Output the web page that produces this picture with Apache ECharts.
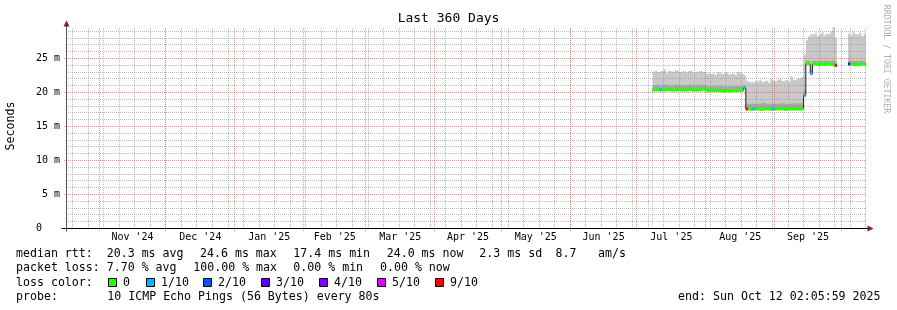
<!DOCTYPE html>
<html><head><meta charset="utf-8">
<script src="https://cdn.jsdelivr.net/npm/echarts@6/dist/echarts.min.js"></script>
<style>html,body{margin:0;padding:0;background:#fff}#c{width:897px;height:310px}</style>
</head><body><div id="c"></div>
<script>
const FONT = '"DejaVu Sans Mono", monospace';
const startTime = Date.parse('2024-10-17T02:05:59+02:00');
const endTime = Date.parse('2025-10-12T02:05:59+02:00');
const firstDay = Date.parse('2025-07-08T00:00:00+02:00');
const DAY = 86400000;

// daily values, index 0 = 2025-07-08 ... index 96 = 2025-10-12 (milliseconds -> shown as "m")
const median = [
  20.3,20.3,20.4,20.3,20.3,20.3,20.4,20.3,20.3,20.3,20.3,20.4,20.3,20.3,20.3,20.3,20.4,20.3,20.3,20.3,20.3,20.3,20.5,20.3,
  20.2,20.2,20.3,20.2,20.2,20.2,20.2,20.1,20.2,20.2,20.1,20.2,20.2,20.2,20.2,20.3,20.2,20.6,
  17.5,17.5,17.4,17.5,17.5,17.5,17.4,17.5,17.5,17.5,17.5,17.4,17.5,17.5,17.5,17.5,17.5,17.4,17.5,17.5,17.5,17.5,17.5,17.5,17.5,17.6,
  19.5,
  24.2,24.1,22.7,24.1,24.1,24.0,24.1,24.1,24.0,24.1,24.1,24.0,24.1,23.9,
  null,null,null,null,null,
  24.1,24.1,24.0,24.1,24.0,24.1,24.1,24.0,24.1
];
const smokeMid = [
  21.0,21.1,21.0,20.9,21.0,21.1,21.0,21.0,20.9,21.0,21.1,21.0,21.0,20.9,21.0,21.0,21.1,21.0,20.9,21.0,21.0,21.1,21.0,21.0,
  20.9,20.8,20.9,20.9,20.8,20.9,20.9,20.8,20.9,20.8,20.9,20.9,20.8,20.9,20.9,20.8,20.9,21.0,
  18.3,18.2,18.3,18.3,18.2,18.3,18.3,18.4,18.3,18.2,18.3,18.3,18.3,18.2,18.3,18.4,18.3,18.3,18.2,18.3,18.3,18.4,18.3,18.3,18.3,18.5,
  20.2,
  24.6,24.6,23.3,24.6,24.5,24.6,24.6,24.5,24.6,24.6,24.5,24.6,24.7,24.4,
  null,null,null,null,null,
  24.6,24.5,24.6,24.6,24.5,24.6,24.6,24.5,24.6
];
const smokeMax = [
  23.0,23.2,22.9,23.1,23.0,23.3,22.8,23.1,23.0,22.9,23.2,23.0,22.9,23.1,23.0,22.8,23.1,23.2,22.9,23.0,22.8,23.1,22.9,23.0,
  22.7,22.9,22.6,22.8,22.5,22.9,22.7,22.6,22.8,22.9,22.6,22.7,22.8,22.5,22.9,22.7,22.6,22.4,
  21.6,21.4,21.5,21.3,21.6,21.4,21.8,21.5,21.6,21.7,21.4,21.9,21.6,21.5,21.8,22.0,21.6,21.7,21.9,21.5,22.3,21.8,21.7,22.0,21.9,22.2,
  25.5,
  27.6,28.2,28.5,28.4,28.7,28.2,28.5,28.8,28.3,28.6,28.4,28.9,29.6,28.0,
  null,null,null,null,null,
  28.6,28.3,28.8,28.5,28.4,28.7,28.2,28.6,28.5
];
const lossCount = [
  0,0,0,1,0,0,0,0,0,0,0,0,0,0,0,0,0,0,0,0,0,0,0,0,
  0,0,0,0,0,0,0,0,0,0,0,0,0,0,0,0,0,1,
  9,0,0,1,0,0,0,0,0,0,0,0,1,0,0,0,0,0,0,0,0,0,0,0,0,0,
  1,
  0,0,1,0,0,0,0,0,0,0,0,0,0,9,
  null,null,null,null,null,
  3,0,0,0,0,0,0,0,0
];

// month boundaries in the server's local time (CET / CEST)
const monthStarts = ['2024-11-01T00:00:00+01:00','2024-12-01T00:00:00+01:00','2025-01-01T00:00:00+01:00',
  '2025-02-01T00:00:00+01:00','2025-03-01T00:00:00+01:00','2025-04-01T00:00:00+02:00',
  '2025-05-01T00:00:00+02:00','2025-06-01T00:00:00+02:00','2025-07-01T00:00:00+02:00',
  '2025-08-01T00:00:00+02:00','2025-09-01T00:00:00+02:00','2025-10-01T00:00:00+02:00'];
const monthLabels = ["Nov '24","Dec '24","Jan '25","Feb '25","Mar '25","Apr '25",
  "May '25","Jun '25","Jul '25","Aug '25","Sep '25"];
const firstWeekLine = '2024-10-20T00:00:00+02:00';
const yTicks = [0, 5, 10, 15, 20, 25];
const yLabels = ['0   ', '5 m', '10 m', '15 m', '20 m', '25 m'];
const lossLevels = [0, 1, 2, 3, 4, 5, 9];
const lossLabels = ['0', '1/10', '2/10', '3/10', '4/10', '5/10', '9/10'];
const lossColors = ['#26ff00', '#00b8ff', '#0059ff', '#5e00ff', '#7e00ff', '#dd00ff', '#ff0000'];

// legend rows: [text pieces], placed at the reference's column positions
const legendRows = [
  ['median rtt:  20.3 ms avg', '24.6 ms max', '17.4 ms min', '24.0 ms now', '2.3 ms sd', '8.7', 'am/s'],
  ['packet loss: 7.70 % avg', '100.00 % max', '0.00 % min', '0.00 % now'],
  ['loss color:'],
  ['probe:', '10 ICMP Echo Pings (56 Bytes) every 80s']
];
const legendCols = [
  [16, 200, 293.3, 386.7, 479.3, 555.5, 598],
  [16, 193.3, 293.3, 380],
  [16],
  [16, 107.3]
];
const endText = 'end: Sun Oct 12 02:05:59 2025';

// ---- layout ----
const GRID = { left: 66, top: 27, width: 800, height: 201 };
const PX_PER_UNIT = 6.8;
const yMax = GRID.height / PX_PER_UNIT;

// ---- derived tables ----
const times = median.map((_, i) => firstDay + i * DAY);
const monthTimes = monthStarts.map(s => Date.parse(s));
const monthMids = monthLabels.map((_, i) => (monthTimes[i] + monthTimes[i + 1]) / 2);

const vGrid = [];
for (let t = Date.parse(firstWeekLine); t < endTime; t += 7 * DAY) vGrid.push([t, 0]);
monthTimes.forEach(t => vGrid.push([t, 1]));
const hGrid = [];
for (let v = 1; v < yMax; v++) hGrid.push([startTime, v, v % 5 === 0 ? 1 : 0]);

const MAJOR_COLOR = 'rgba(222,79,79,0.6)';
const MINOR_COLOR = 'rgba(143,143,143,0.6)';
const gridStyle = (kind, offset) => ({
  stroke: kind === 1 ? MAJOR_COLOR : MINOR_COLOR, fill: null, lineWidth: 1, lineDash: [1, 1], lineDashOffset: offset
});

const pts = arr => times.map((t, i) => [t, arr[i] == null ? '-' : arr[i]]);

function levelOf(l) { let k = 0; lossLevels.forEach((lv, j) => { if (l >= lv) k = j; }); return k; }
const lossSeries = lossColors.map((color, k) => {
  const data = [];
  for (let i = 0; i < times.length - 1; i++) {
    if (median[i] != null && levelOf(lossCount[i]) === k) {
      data.push([times[i], median[i]], [Math.min(times[i + 1], endTime), median[i]]);
    } else if (data.length && data[data.length - 1][1] !== '-') {
      data.push([times[i], '-']);
    }
  }
  return { type: 'line', data, symbol: 'none', z: 7, silent: true, connectNulls: false, lineStyle: { color, width: 3 } };
});

const areaSeries = (arr, color) => ({
  type: 'line', step: 'end', symbol: 'none', silent: true, z: 2, connectNulls: false,
  data: pts(arr), lineStyle: { width: 0, opacity: 0 }, areaStyle: { color, opacity: 1 }
});

const chart = echarts.init(document.getElementById('c'), null, { renderer: 'canvas' });

chart.setOption({
  animation: false,
  backgroundColor: '#ffffff',
  textStyle: { fontFamily: FONT },
  grid: Object.assign({ containLabel: false, outerBoundsMode: 'none' }, GRID),
  xAxis: {
    type: 'value', min: startTime, max: endTime,
    axisLine: { show: true, lineStyle: { color: '#000', width: 1 } },
    axisTick: { show: false }, splitLine: { show: false },
    axisLabel: {
      customValues: monthMids, margin: 4, fontFamily: FONT, fontSize: 10, color: '#000',
      formatter: v => { const i = monthMids.indexOf(v); return i >= 0 ? monthLabels[i] : ''; }
    }
  },
  yAxis: {
    type: 'value', min: 0, max: yMax,
    axisLine: { show: true, lineStyle: { color: '#555', width: 1 } },
    axisTick: { show: false }, splitLine: { show: false },
    axisLabel: {
      customValues: yTicks, margin: 6, fontFamily: FONT, fontSize: 10, color: '#000',
      formatter: v => { const i = yTicks.indexOf(v); return i >= 0 ? yLabels[i] : ''; }
    }
  },
  series: [
    areaSeries(smokeMax, '#c9c9c9'),
    areaSeries(smokeMid, '#a6a6a6'),
    areaSeries(median, '#ffffff'),
    {
      type: 'custom', z: 5, silent: true, data: vGrid, clip: false,
      renderItem: (params, api) => {
        const cs = params.coordSys;
        const p = api.coord([api.value(0), 0]);
        const x = Math.floor(p[0]) + 0.5;
        const kind = api.value(1);
        return { type: 'line', silent: true,
          shape: { x1: x, y1: cs.y, x2: x, y2: cs.y + cs.height + (kind === 1 ? 3 : 0) }, style: gridStyle(kind, 1) };
      }
    },
    {
      type: 'custom', z: 5, silent: true, data: hGrid, clip: false,
      renderItem: (params, api) => {
        const cs = params.coordSys;
        const p = api.coord([api.value(0), api.value(1)]);
        const y = Math.round(p[1]) + 0.5;
        const kind = api.value(2);
        return { type: 'line', silent: true,
          shape: { x1: cs.x - (kind === 1 ? 2 : 0), y1: y, x2: cs.x + cs.width, y2: y }, style: gridStyle(kind, 0) };
      }
    },
    {
      type: 'line', step: 'end', symbol: 'none', silent: true, z: 6, connectNulls: false,
      data: pts(median), lineStyle: { color: '#202020', width: 1 }
    }
  ].concat(lossSeries),
  graphic: (function () {
    const g = [];
    const txt = (text, x, y, size, align, opts) => Object.assign({
      type: 'text', x, y, silent: true, z: 10,
      style: { text, fill: '#000', font: size + 'px ' + FONT, align: align, textAlign: align, verticalAlign: 'middle', textVerticalAlign: 'middle' }
    }, opts || {});
    g.push(txt('Last 360 Days', 448.5, 19, 13, 'center'));
    g.push(txt('Seconds', 11, 126, 11.6, 'center', { rotation: Math.PI / 2 }));
    const wm = txt('RRDTOOL / TOBI OETIKER', 886, 59, 8.2, 'center', { rotation: -Math.PI / 2 });
    wm.style.fill = '#b0b0b0';
    g.push(wm);
    const ys = [254, 268, 282.5, 297];
    legendRows.forEach((row, r) => row.forEach((piece, j) => g.push(txt(piece, legendCols[r][j], ys[r], 11.6, 'left'))));
    g.push(txt(endText, 880.5, ys[3], 11.6, 'right'));
    const boxX = [108, 146, 203, 261, 319, 377, 435];
    lossLabels.forEach((lab, i) => {
      g.push({ type: 'rect', silent: true, z: 10, shape: { x: boxX[i] + 0.5, y: 278.5, width: 8, height: 8 },
        style: { fill: lossColors[i], stroke: '#000', lineWidth: 1 } });
      g.push(txt(lab, boxX[i] + 15, ys[2], 11.6, 'left'));
    });
    const ax = GRID.left + 0.5, ay = GRID.top + GRID.height + 0.5, xr = GRID.left + GRID.width;
    g.push({ type: 'line', silent: true, z: 10, shape: { x1: ax - 5, y1: ay, x2: xr + 2, y2: ay }, style: { stroke: '#000', lineWidth: 1 } });
    g.push({ type: 'line', silent: true, z: 10, shape: { x1: ax, y1: ay + 3, x2: ax, y2: GRID.top - 2 }, style: { stroke: '#555', lineWidth: 1 } });
    g.push({ type: 'polygon', silent: true, z: 11, shape: { points: [[ax, GRID.top - 6.5], [ax - 3, GRID.top - 0.5], [ax + 3, GRID.top - 0.5]] }, style: { fill: '#801f1f' } });
    g.push({ type: 'polygon', silent: true, z: 11, shape: { points: [[xr + 7.5, ay], [xr + 1.5, ay - 3], [xr + 1.5, ay + 3]] }, style: { fill: '#801f1f' } });
    return g;
  })()
});
</script>
</body></html>
